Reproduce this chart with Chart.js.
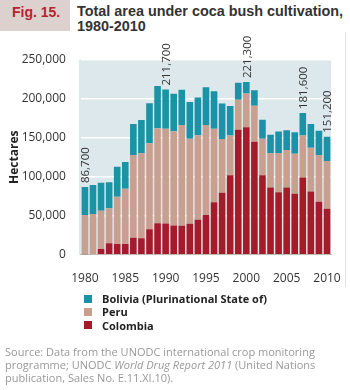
<!DOCTYPE html>
<html><head><meta charset="utf-8">
<script src="https://cdn.jsdelivr.net/npm/chart.js@4"></script>
<style>
body{margin:0;width:350px;height:390px;overflow:hidden;background:#fff;position:relative}
#figbox{position:absolute;left:0;top:0;width:70px;height:31px;background:#dcd1ce}
#fig{position:absolute;left:12px;top:4px;color:#b52330;font:bold 14px "Liberation Sans",Arial,sans-serif}
#title{position:absolute;left:77px;top:4px;font:bold 14.4px "Liberation Sans",Arial,sans-serif;color:#333;line-height:15px;white-space:nowrap}
canvas{position:absolute;left:0;top:0}
#legend{position:absolute;left:84px;top:292px;font:bold 11px "Open Sans",sans-serif;color:#222}
.item{height:13.3px;line-height:13.3px;display:flex;align-items:center}
.sw{width:8px;height:8px;margin-right:10px}
#source{position:absolute;left:5px;top:345px;font:11px "Open Sans",sans-serif;color:#999;line-height:13px;width:345px}
#rline{position:absolute;left:345px;top:32px;width:1px;height:255px;background:#e2e2e2}
</style></head>
<body>
<div id="figbox"></div>
<div id="fig">Fig. 15.</div>
<div id="title">Total area under coca bush cultivation,<br>1980-2010</div>
<div id="rline"></div>
<canvas id="c" width="350" height="390"></canvas>
<div id="legend"></div>
<div id="source">Source: Data from the UNODC international crop monitoring programme; UNODC <i>World Drug Report 2011</i> (United Nations publication, Sales No. E.11.XI.10).</div>
<script>
const years = ['1980','1981','1982','1983','1984','1985','1986','1987','1988','1989','1990','1991','1992','1993','1994','1995','1996','1997','1998','1999','2000','2001','2002','2003','2004','2005','2006','2007','2008','2009','2010'];
const colombia = [500,1000,7300,14600,13700,13700,21800,21000,32500,40200,40100,37500,37100,39700,44700,50900,67200,79400,101800,160100,163300,144800,102000,86000,80000,86000,78000,99000,81000,68000,59000];
const peru = [50400,51200,49100,44900,60700,70700,106000,109000,110300,121800,121300,120800,129100,108800,108600,115300,94400,68800,51000,38700,43400,46200,46700,44200,50300,48200,51400,53700,56100,59900,61200];
const bolivia = [35800,37100,36000,33300,38400,34600,39800,42700,51300,54300,50300,47900,45300,47200,48100,48600,48100,45800,38000,21800,14600,19900,24400,23600,27700,25400,27500,28900,30500,30900,31000];
const labeledYears = ['1980','1990','2000','2007','2010'];
const yTicks = [0,50000,100000,150000,200000,250000];

const seriesNames = {bol:'Bolivia (Plurinational State of)', peru:'Peru', col:'Colombia'};
const colors = {bol:'#1a93a6', peru:'#c9a090', col:'#a61b2b'};

const fmt = v => v.toLocaleString('en-US');

const bgPlugin = {
  id:'bg',
  beforeDraw(chart){
    const a = chart.chartArea, ctx = chart.ctx;
    ctx.save(); ctx.fillStyle = '#dce8ec';
    ctx.fillRect(a.left-2, a.top, a.right-a.left+2, a.bottom-a.top);
    ctx.restore();
  }
};
const labelPlugin = {
  id:'vals',
  afterDatasetsDraw(chart){
    const ctx = chart.ctx;
    const n = chart.data.datasets.length;
    const topMeta = chart.getDatasetMeta(n-1);
    ctx.save();
    ctx.font = '11.5px "Open Sans", sans-serif';
    ctx.fillStyle = '#333';
    ctx.textAlign = 'left'; ctx.textBaseline = 'middle';
    labeledYears.forEach(y => {
      const i = chart.data.labels.indexOf(y);
      let total = 0;
      chart.data.datasets.forEach(d => total += d.data[i]);
      const el = topMeta.data[i];
      ctx.save();
      ctx.translate(el.x+1, el.y-4);
      ctx.rotate(-Math.PI/2);
      ctx.fillText(fmt(total), 0, 0);
      ctx.restore();
    });
    ctx.restore();
  }
};

const chart = new Chart(document.getElementById('c'), {
  type:'bar',
  data:{
    labels: years,
    datasets:[
      {label:seriesNames.col, data:colombia, backgroundColor:colors.col},
      {label:seriesNames.peru, data:peru, backgroundColor:colors.peru},
      {label:seriesNames.bol, data:bolivia, backgroundColor:colors.bol}
    ]
  },
  options:{
    responsive:false, animation:false,
    layout:{padding:{left:0,right:16.6,top:59.7,bottom:105.3}},
    datasets:{bar:{barPercentage:0.82, categoryPercentage:1, borderWidth:0}},
    plugins:{legend:{display:false}, tooltip:{enabled:false}},
    scales:{
      x:{
        stacked:true,
        grid:{display:false},
        border:{display:true,color:'#bbb'},
        ticks:{autoSkip:false,maxRotation:0,padding:9,color:'#333',font:{family:'"Open Sans", sans-serif',size:12},
          callback(v,i){ const y = this.getLabelForValue(v); return (+y)%5===0 ? y : ''; }},
        afterFit(s){ s.height = 30; }
      },
      y:{
        stacked:true, min:0, max:250000,
        afterBuildTicks(s){ s.ticks = yTicks.map(v=>({value:v})); },
        grid:{color:'#ffffff', lineWidth:1.5, drawTicks:false},
        border:{display:false},
        ticks:{padding:15,color:'#333',font:{family:'"Open Sans", sans-serif',size:12}, callback:v=>fmt(v)},
        title:{display:true,text:'Hectares',color:'#222',font:{family:'"Open Sans", sans-serif',size:12,weight:'bold'},padding:{top:7,bottom:0}},
        afterFit(s){ s.width = 80.9; }
      }
    }
  },
  plugins:[bgPlugin,labelPlugin]
});

// legend from datasets (top-down order: Bolivia, Peru, Colombia)
const leg = document.getElementById('legend');
chart.data.datasets.slice().reverse().forEach(d => {
  const it = document.createElement('div'); it.className='item';
  const sw = document.createElement('span'); sw.className='sw'; sw.style.background=d.backgroundColor;
  const tx = document.createElement('span'); tx.textContent = d.label;
  it.appendChild(sw); it.appendChild(tx); leg.appendChild(it);
});
</script>
</body></html>
